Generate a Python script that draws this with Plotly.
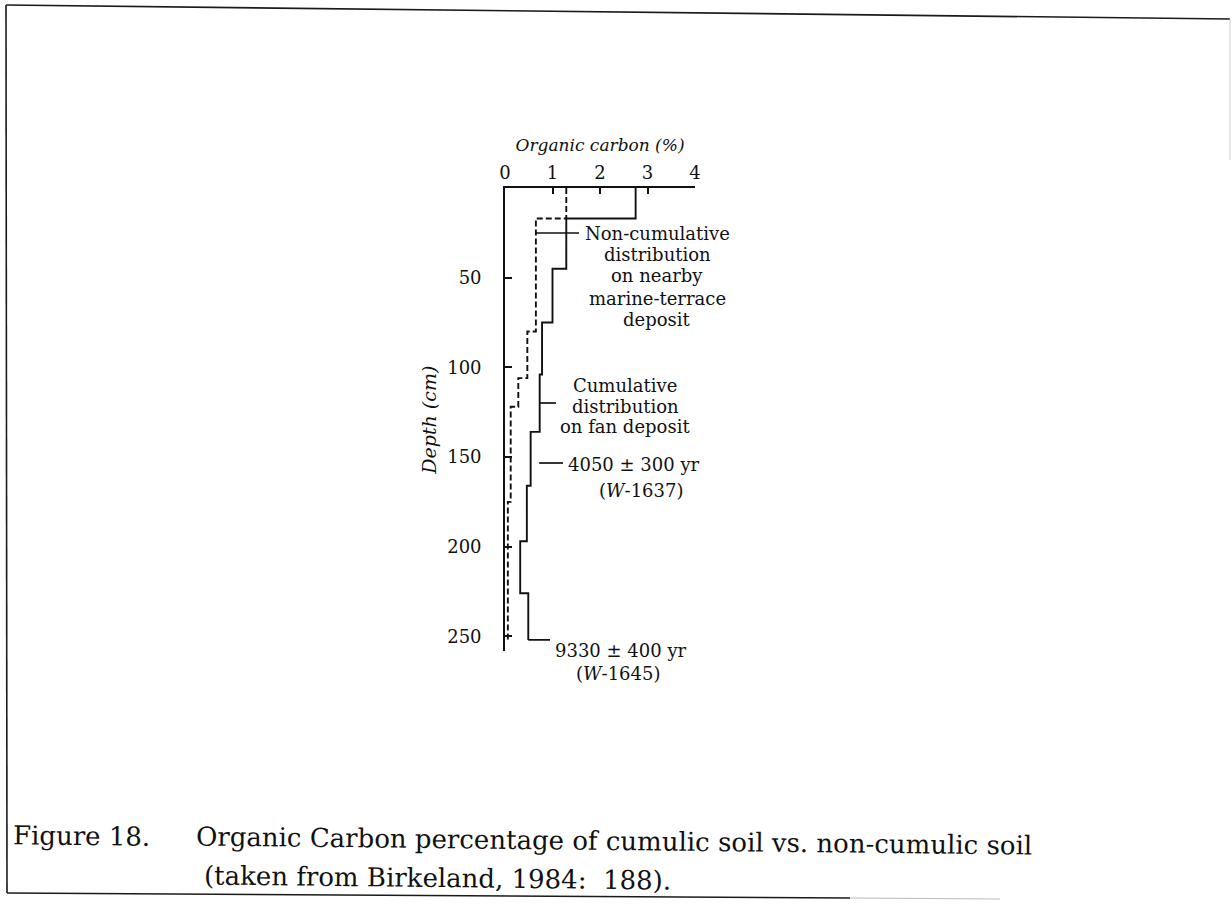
import plotly.graph_objects as go

# ---------------- data ----------------
# Cumulative distribution on fan deposit (solid step line): depth of top of each step (cm), organic C (%)
fan_top_depth = [0, 17, 45, 75, 104, 136, 166, 197, 226]
fan_carbon = [2.75, 1.29, 1.00, 0.78, 0.73, 0.54, 0.46, 0.32, 0.49]
fan_bottom = 252

# Non-cumulative distribution on nearby marine-terrace deposit (dashed step line)
mar_top_depth = [0, 17, 80, 106, 122, 175]
mar_carbon = [1.29, 0.65, 0.47, 0.28, 0.12, 0.06]
mar_bottom = 253

x_ticks = [0, 1, 2, 3, 4]
y_ticks = [50, 100, 150, 200, 250]

W, H = 1232, 904
X0_PX, X4_PX = 505, 695          # pixel span of the 0..4 axis
Y0_PX, YB_PX = 188, 651.4        # pixel span of the depth axis
Y_MAX = 258.4


def px(x):
    return x / W


def py(y):
    return 1 - y / H


def xval(pix):
    return (pix - X0_PX) / ((X4_PX - X0_PX) / 4)


def dval(pix):
    return (pix - Y0_PX) / ((YB_PX - Y0_PX) / Y_MAX)


def steps(tops, vals, bottom):
    xs, ys = [], []
    for i, v in enumerate(vals):
        top = tops[i]
        bot = tops[i + 1] if i + 1 < len(tops) else bottom
        xs += [v, v]
        ys += [top, bot]
    return xs, ys


fx, fy = steps(fan_top_depth, fan_carbon, fan_bottom)
mx, my = steps(mar_top_depth, mar_carbon, mar_bottom)

ink = "#111111"
fig = go.Figure()
fig.add_trace(go.Scatter(x=fx, y=fy, mode="lines",
                         line=dict(color=ink, width=1.9),
                         showlegend=False, hoverinfo="skip"))
fig.add_trace(go.Scatter(x=mx, y=my, mode="lines",
                         line=dict(color=ink, width=1.9, dash="6px,3px"),
                         showlegend=False, hoverinfo="skip"))

# leader lines (start value, end pixel, depth pixel)
leaders = [
    (mar_carbon[1], 579, 233),
    (fan_carbon[4], 556, 403),
    (0.72, 563, 463),
    (fan_carbon[-1], 550, None),
]
for x0, xend_px, ypix in leaders:
    d = dval(ypix) if ypix is not None else fan_bottom
    fig.add_shape(type="line", xref="x", yref="y", x0=x0, x1=xval(xend_px), y0=d, y1=d,
                  line=dict(color=ink, width=1.7))

lab_font = dict(family="DejaVu Serif", size=18, color=ink)


def label_lines(lines, xc_px, ys_px):
    # placed in page (paper) coordinates so labels below the axis range stay visible
    for txt, ypx in zip(lines, ys_px):
        fig.add_annotation(x=px(xc_px), y=py(ypx), xref="paper", yref="paper", showarrow=False,
                           text=txt, font=lab_font, xanchor="center", yanchor="middle")


label_lines(["Non-cumulative", "distribution", "on nearby", "marine-terrace", "deposit"],
            657, [233, 255, 276, 298, 319])
label_lines(["Cumulative", "distribution", "on fan deposit"], 625, [385, 406, 427])
label_lines(["4050 ± 300 yr"], 634, [464])
label_lines(["(<i>W</i>-1637)"], 641, [490])
label_lines(["9330 ± 400 yr"], 621, [650])
label_lines(["(<i>W</i>-1645)"], 618, [673])

# caption (slightly skewed like the scanned page)
cap_font = dict(family="DejaVu Serif", size=26, color="#111111")
tilt = 0.62
fig.add_annotation(x=px(81), y=py(836), xref="paper", yref="paper", showarrow=False,
                   text="Figure 18.", font=cap_font, xanchor="center", yanchor="middle",
                   textangle=tilt)
fig.add_annotation(x=px(614), y=py(841), xref="paper", yref="paper", showarrow=False,
                   text="Organic Carbon percentage of cumulic soil vs. non-cumulic soil",
                   font=cap_font, xanchor="center", yanchor="middle", textangle=tilt)
fig.add_annotation(x=px(437), y=py(878), xref="paper", yref="paper", showarrow=False,
                   text="(taken from Birkeland, 1984:  188).",
                   font=cap_font, xanchor="center", yanchor="middle", textangle=tilt)

# page border (scanned frame)
border = dict(color="#1a1a1a", width=1.6)
fig.add_shape(type="line", xref="paper", yref="paper",
              x0=px(6), y0=py(5), x1=px(1230), y1=py(19), line=border)
fig.add_shape(type="line", xref="paper", yref="paper",
              x0=px(6), y0=py(5), x1=px(7), y1=py(893), line=border)
fig.add_shape(type="line", xref="paper", yref="paper",
              x0=px(7), y0=py(893), x1=px(850), y1=py(898), line=border)
fig.add_shape(type="line", xref="paper", yref="paper",
              x0=px(850), y0=py(898), x1=px(1000), y1=py(899),
              line=dict(color="#bbbbbb", width=1))
fig.add_shape(type="line", xref="paper", yref="paper",
              x0=px(1230), y0=py(19), x1=px(1230), y1=py(160),
              line=dict(color="#cccccc", width=1))

tick_font = dict(family="DejaVu Serif", size=18, color=ink)
fig.update_layout(
    width=W, height=H,
    margin=dict(l=0, r=0, t=0, b=0),
    paper_bgcolor="white", plot_bgcolor="white",
    showlegend=False,
    xaxis=dict(
        side="top", range=[0, 4], domain=[px(X0_PX), px(X4_PX)],
        tickvals=x_ticks, ticktext=[str(v) for v in x_ticks],
        ticks="inside", ticklen=6, tickwidth=1.5, tickcolor=ink,
        showline=True, linecolor=ink, linewidth=1.7,
        showgrid=False, zeroline=False, automargin=False,
        tickfont=tick_font,
        title=dict(text="<i>Organic carbon (%)</i>",
                   font=dict(family="DejaVu Serif", size=17, color=ink), standoff=6),
    ),
    yaxis=dict(
        range=[Y_MAX, 0], domain=[py(YB_PX), py(Y0_PX)],
        tickvals=y_ticks, ticktext=[str(v) for v in y_ticks],
        ticks="inside", ticklen=7, tickwidth=1.5, tickcolor=ink,
        showline=True, linecolor=ink, linewidth=1.7,
        showgrid=False, zeroline=False, automargin=False,
        tickfont=tick_font, ticklabelstandoff=18,
        title=dict(text="<i>Depth (cm)</i>",
                   font=dict(family="DejaVu Serif", size=19, color=ink), standoff=6),
    ),
)

fig.write_html("out.html", config={"displayModeBar": False},
               post_script="document.body.style.margin='0px';")
